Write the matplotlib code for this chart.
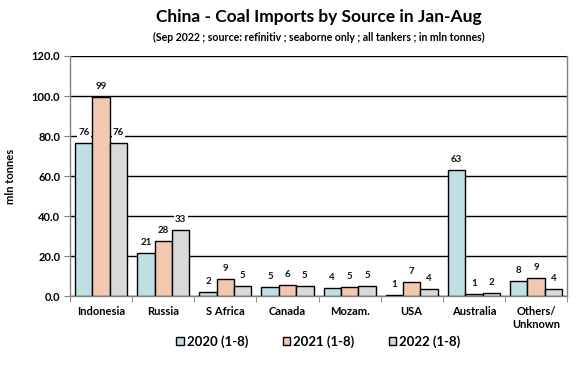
import matplotlib.pyplot as plt
import numpy as np

plt.rcParams["font.family"] = ["Lato", "DejaVu Sans"]
plt.rcParams["font.weight"] = "bold"

CATEGORIES = ["Indonesia", "Russia", "S Africa", "Canada", "Mozam.", "USA", "Australia", "Others/\nUnknown"]
SERIES = ["2020 (1-8)", "2021 (1-8)", "2022 (1-8)"]
VALUES_2020 = [76.4, 21.3, 1.8, 4.6, 3.8, 0.6, 62.8, 7.6]
VALUES_2021 = [99.4, 27.6, 8.6, 5.6, 4.6, 6.8, 0.8, 8.8]
VALUES_2022 = [76.4, 32.9, 4.8, 5.0, 4.9, 3.6, 1.6, 3.6]
COLORS = ["#BEDFE3", "#F2C8AF", "#D9D9D9"]
Y_TICKS = [0, 20, 40, 60, 80, 100, 120]


def main() -> None:
    fig = plt.figure(figsize=(5.87, 3.87), dpi=100)
    ax = fig.add_axes([0.1193, 0.2351, 0.8467, 0.6202])

    x = np.arange(len(CATEGORIES))
    width = 0.28
    series_values = [VALUES_2020, VALUES_2021, VALUES_2022]
    for i, (name, vals, color) in enumerate(zip(SERIES, series_values, COLORS)):
        pos = x + (i - 1) * width
        ax.bar(pos, vals, width, color=color, edgecolor="black", linewidth=1.0,
               label=name, zorder=3)
        for px, v in zip(pos, vals):
            ax.text(px, v + 3.0, f"{v:.0f}", ha="center", va="bottom", fontsize=7,
                    fontweight="bold", color="#111111", zorder=4,
                    bbox=dict(facecolor="white", edgecolor="none", pad=1.0))

    ax.set_xlim(-0.5, len(CATEGORIES) - 0.5)
    ax.set_ylim(0, 120)
    ax.set_yticks(Y_TICKS)
    ax.set_yticklabels([f"{t:.1f}" for t in Y_TICKS], fontsize=8, fontweight="bold")
    ax.yaxis.grid(True, color="black", linewidth=1.0, zorder=0)
    ax.set_axisbelow(True)

    ax.set_xticks(x)
    ax.set_xticklabels(CATEGORIES, fontsize=8, fontweight="bold", va="top")
    ax.set_xticks(np.arange(-0.5, len(CATEGORIES)), minor=True)
    ax.tick_params(axis="x", which="major", length=0, pad=7)
    ax.tick_params(axis="x", which="minor", length=4, color="#808080")
    ax.tick_params(axis="y", length=4, color="#808080", pad=3)

    for side in ["left", "bottom", "right"]:
        ax.spines[side].set_color("#808080")
        ax.spines[side].set_linewidth(1.0)
    ax.spines["top"].set_visible(False)

    ax.set_ylabel("mln tonnes", fontsize=8, fontweight="bold", labelpad=11)

    fig.text(0.5426, 0.955, "China - Coal Imports by Source in Jan-Aug", ha="center",
             va="center", fontsize=12.5, fontweight="bold")
    fig.text(0.5426, 0.903, "(Sep 2022 ; source: refinitiv ; seaborne only ; all tankers ; in mln tonnes)",
             ha="center", va="center", fontsize=7.6, fontweight="bold")

    leg = fig.legend(loc="center", bbox_to_anchor=(0.5426, 0.117), ncol=3, frameon=False,
                     fontsize=9.5, handlelength=0.55, handleheight=0.55, handletextpad=0.25,
                     columnspacing=2.6)
    for t in leg.get_texts():
        t.set_fontweight("bold")

    fig.savefig("out.png", dpi=100)
    plt.close(fig)


if __name__ == "__main__":
    main()
